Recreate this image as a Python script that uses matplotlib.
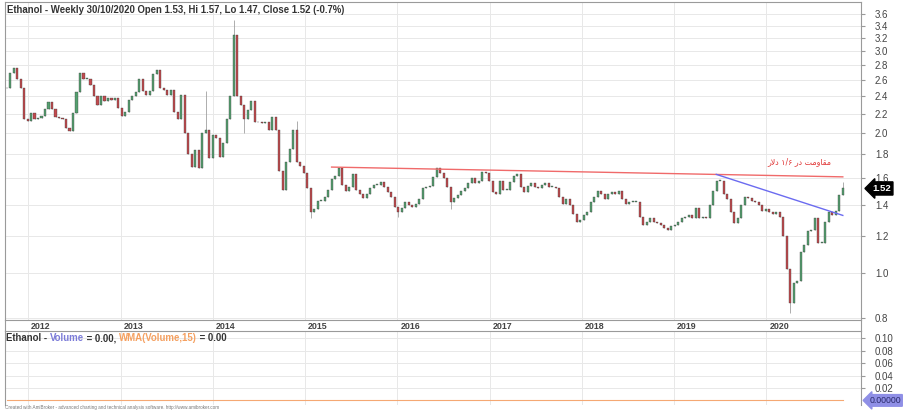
import numpy as np
import pandas as pd
import matplotlib
matplotlib.use('Agg')
import matplotlib.pyplot as plt
import matplotlib.dates as mdates
from matplotlib.transforms import offset_copy, blended_transform_factory
from matplotlib.ticker import FixedLocator, FormatStrFormatter, NullLocator
from matplotlib.lines import Line2D

plt.rcParams['font.family'] = ['Liberation Sans', 'DejaVu Sans']

# two-weekly closes, Oct 2011 .. 30 Oct 2020
closes = [
    2.50, 2.70, 2.76, 2.62, 2.50, 2.15, 2.12, 2.21, 2.15, 2.16,
    2.18, 2.25, 2.33, 2.25, 2.17, 2.16, 2.14, 2.05, 2.02, 2.21,
    2.45, 2.69, 2.62, 2.62, 2.54, 2.40, 2.30, 2.40, 2.35, 2.38,
    2.36, 2.38, 2.26, 2.18, 2.22, 2.36, 2.40, 2.45, 2.61, 2.47,
    2.42, 2.47, 2.68, 2.73, 2.50, 2.48, 2.42, 2.48, 2.22, 2.15,
    2.42, 2.00, 1.80, 1.69, 1.84, 1.68, 2.00, 2.03, 1.77, 1.98,
    1.95, 1.78, 1.90, 2.15, 2.40, 3.26, 2.40, 2.30, 2.15, 2.24,
    2.35, 2.11, 2.11, 2.10, 2.11, 2.03, 2.17, 2.03, 1.66, 1.51,
    1.73, 1.85, 2.03, 1.73, 1.70, 1.64, 1.52, 1.35, 1.37, 1.43,
    1.43, 1.46, 1.51, 1.59, 1.62, 1.68, 1.55, 1.50, 1.53, 1.63,
    1.51, 1.48, 1.45, 1.48, 1.52, 1.55, 1.55, 1.57, 1.53, 1.49,
    1.46, 1.39, 1.35, 1.38, 1.42, 1.40, 1.39, 1.41, 1.44, 1.52,
    1.53, 1.54, 1.61, 1.68, 1.64, 1.60, 1.53, 1.42, 1.45, 1.47,
    1.50, 1.52, 1.56, 1.60, 1.56, 1.58, 1.65, 1.64, 1.58, 1.49,
    1.48, 1.58, 1.51, 1.51, 1.57, 1.62, 1.63, 1.53, 1.49, 1.54,
    1.56, 1.53, 1.52, 1.55, 1.56, 1.53, 1.53, 1.52, 1.46, 1.41,
    1.44, 1.40, 1.34, 1.29, 1.30, 1.33, 1.35, 1.42, 1.46, 1.50,
    1.48, 1.44, 1.48, 1.49, 1.48, 1.50, 1.44, 1.41, 1.42, 1.42,
    1.42, 1.32, 1.27, 1.29, 1.31, 1.29, 1.28, 1.27, 1.25, 1.24,
    1.26, 1.27, 1.29, 1.31, 1.32, 1.33, 1.31, 1.38, 1.31, 1.32,
    1.31, 1.40, 1.50, 1.58, 1.58, 1.48, 1.44, 1.35, 1.28, 1.31,
    1.40, 1.46, 1.45, 1.43, 1.42, 1.40, 1.36, 1.37, 1.35, 1.34,
    1.35, 1.32, 1.20, 1.02, 0.86, 0.95, 0.96, 1.11, 1.15, 1.23,
    1.24, 1.31, 1.16, 1.16, 1.29, 1.35, 1.33, 1.36, 1.47, 1.52,
]
# wicks that stick out of the bodies (bar index -> price)
wick_highs = {57: 2.47, 65: 3.50, 83: 2.12, 239: 1.57}
wick_lows = {68: 2.00, 87: 1.31, 112: 1.32, 127: 1.37, 224: 0.82, 239: 1.47}
volume = [0.0] * len(closes)

red_line_dates = ['2015-04-16', '2020-10-30']
red_line_vals = [1.69, 1.61]
blue_line_dates = ['2019-06-17', '2020-10-30']
blue_line_vals = [1.63, 1.33]

price_ticks = [0.8, 1.0, 1.2, 1.4, 1.6, 1.8, 2.0, 2.2, 2.4, 2.6, 2.8, 3.0, 3.2, 3.4, 3.6]
vol_ticks = [0.02, 0.04, 0.06, 0.08, 0.10]
years = list(range(2012, 2021))

title = 'Ethanol - Weekly 30/10/2020 Open 1.53, Hi 1.57, Lo 1.47, Close 1.52 (-0.7%)'
# "مقاومت در ۱/۶ دلار" written in visual order with joined letter forms
note = '\ufead\ufefb\ufea9 \u06f1/\u06f6 \ufead\ufea9 \ufe96\ufee3\ufeed\ufe8e\ufed8\ufee3'

dates = pd.date_range('2011-10-07', '2020-10-30', periods=len(closes))
x = mdates.date2num(dates)
c = np.array(closes)
o = np.r_[c[0], c[:-1]]
hi = np.maximum(o, c)
lo = np.minimum(o, c)
for k, v in wick_highs.items():
    hi[k] = v
for k, v in wick_lows.items():
    lo[k] = v

W, H = 916, 411
fig = plt.figure(figsize=(W / 100, H / 100), dpi=100)
fig.patch.set_facecolor('white')

def box(l, t, r, b):
    return [l / W, 1 - b / H, (r - l) / W, (b - t) / H]

ax = fig.add_axes(box(5, 2, 861, 320))
ax2 = fig.add_axes(box(5, 331, 861, 405))

frame = '#9a9a9a'
grid = '#e8e8e8'
xlo = mdates.date2num(pd.Timestamp('2011-10-01'))
xhi = mdates.date2num(pd.Timestamp('2021-01-10'))
year_x = [mdates.date2num(pd.Timestamp(f'{y}-01-01')) for y in years]

# --- price panel
ax.set_yscale('log')
ax.set_ylim(0.792, 3.83)
ax.set_xlim(xlo, xhi)
for yx in year_x:
    ax.axvline(yx, color=grid, lw=0.7, zorder=0)
for t in price_ticks:
    ax.axhline(t, color=grid, lw=0.7, zorder=0)

up = c >= o
body_col = np.where(up, '#55a070', '#c24a4e')
ax.vlines(x, lo, hi, color='#a0a0a0', lw=0.6, zorder=1)
ax.bar(x, np.where(np.abs(c - o) < 0.004, 0.006, c - o), bottom=o, width=8,
       color=body_col, edgecolor='#3a3a3a', linewidth=0.25, zorder=2)

ax.plot(mdates.date2num(pd.to_datetime(red_line_dates)), red_line_vals,
        color='#f06a6a', lw=1.0, zorder=3)
ax.plot(mdates.date2num(pd.to_datetime(blue_line_dates)), blue_line_vals,
        color='#6b6bf0', lw=1.0, zorder=3)
ax.text(mdates.date2num(pd.Timestamp('2020-05-12')), 1.735, note, color='#e03535',
        fontsize=5.7, ha='center', va='center', family=['DejaVu Sans'])

ax.text(0.002, 0.992, title, transform=ax.transAxes, ha='left', va='top',
        fontsize=6.9, fontweight='bold', color='#333333')

ax.yaxis.tick_right()
ax.yaxis.set_major_locator(FixedLocator(price_ticks))
ax.yaxis.set_major_formatter(FormatStrFormatter('%.1f'))
ax.yaxis.set_minor_locator(NullLocator())
ax.tick_params(axis='y', which='major', direction='out', length=3, pad=7,
               labelsize=7, labelcolor='#444444', color=frame)
ax.set_xticks([])
for s in ax.spines.values():
    s.set_color(frame)
    s.set_linewidth(0.8)

# year labels in the band under the price panel
trans = offset_copy(blended_transform_factory(ax.transData, ax.transAxes),
                    fig=fig, x=3, y=-6, units='dots')
for y, yx in zip(years, year_x):
    ax.text(yx, 0, str(y), transform=trans, ha='left', va='center',
            fontsize=6.4, color='#444444', fontweight='bold')

# last price tag
ax.annotate('1.52', xy=(1.0, c[-1]), xycoords=('axes fraction', 'data'),
            xytext=(8, 0), textcoords='offset points', ha='left', va='center',
            fontsize=6.8, fontweight='bold', color='white',
            bbox=dict(boxstyle='larrow,pad=0.22', fc='black', ec='black'))

# --- volume panel
vol = np.array(volume)
wts = np.arange(1, 16)
wma = np.array([np.dot(vol[max(0, i - 14):i + 1], wts[-(i + 1 - max(0, i - 14)):]) /
                wts[-(i + 1 - max(0, i - 14)):].sum() for i in range(len(vol))])
ax2.set_xlim(xlo, xhi)
ax2.set_ylim(-0.0074, 0.1117)
for yx in year_x:
    ax2.axvline(yx, color=grid, lw=0.7, zorder=0)
for t in vol_ticks:
    ax2.axhline(t, color=grid, lw=0.7, zorder=0)
ax2.bar(x, vol, width=8, color='#7b7be0')
ax2.plot(x, wma, color='#f5a873', lw=0.8)
ax2.yaxis.tick_right()
ax2.set_yticks(vol_ticks)
ax2.yaxis.set_major_formatter(FormatStrFormatter('%.2f'))
ax2.tick_params(axis='y', direction='out', length=3, pad=7, labelsize=7,
                labelcolor='#444444', color=frame)
ax2.set_xticks([])
for s in ax2.spines.values():
    s.set_color(frame)
    s.set_linewidth(0.8)
ax2.spines['bottom'].set_visible(False)

ax2.annotate('0.00000', xy=(1.0, 0.0), xycoords=('axes fraction', 'data'),
             xytext=(6, 0), textcoords='offset points', ha='left', va='center',
             fontsize=6.3, color='#2a2a6a',
             bbox=dict(boxstyle='larrow,pad=0.15', fc='#8f8fe6', ec='#8f8fe6'))

# multi-colour indicator title
pieces = [('Ethanol - ', '#333333'), ('Volume', '#7b7bd8'), (' = 0.00, ', '#333333'),
          ('WMA(Volume,15)', '#f5a060'), (' = 0.00', '#333333')]
fig.canvas.draw()
r = fig.canvas.get_renderer()
px = 6
for txt, col in pieces:
    t = fig.text(px / W, 1 - 338 / H, txt, ha='left', va='center', fontsize=6.9,
                 fontweight='bold', color=col)
    px += t.get_window_extent(renderer=r).width

# frame lines through the date band
fig.add_artist(Line2D([861 / W, 861 / W], [1 - 320 / H, 1 - 331 / H], color=frame, lw=0.8))
fig.add_artist(Line2D([5 / W, 5 / W], [1 - 320 / H, 1 - 331 / H], color=frame, lw=0.8))

fig.text(5 / W, 1 - 407.5 / H,
         'Created with AmiBroker - advanced charting and technical analysis software. http://www.amibroker.com',
         fontsize=3.3, color='#777777', ha='left', va='center')

fig.savefig('out.png', dpi=100)
